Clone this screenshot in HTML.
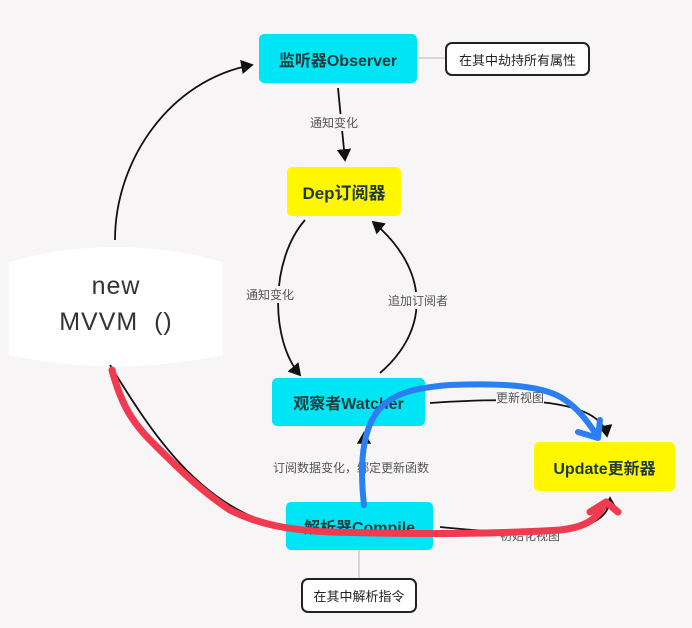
<!DOCTYPE html>
<html><head><meta charset="utf-8"><style>
body{margin:0;width:692px;height:628px;background:#f7f5f6;overflow:hidden;font-family:"Liberation Sans","Noto Sans CJK SC",sans-serif;}
.b{position:absolute;display:flex;align-items:center;justify-content:center;font-weight:bold;font-size:16px;color:#1f3a3a;border-radius:5px;}
.c{background:#00e5f5;}
.y{background:#fff700;}
.n{position:absolute;border:2px solid #222;border-radius:7px;background:#fff;font-size:13px;display:flex;align-items:center;justify-content:center;color:#222;}
.l{position:absolute;font-size:12px;color:#555;background:#f7f5f6;}
</style></head><body>
<svg width="692" height="628" style="position:absolute;left:0;top:0">
<defs><marker id="a" markerWidth="8" markerHeight="8" refX="6" refY="4" orient="auto"><path d="M0,0 L7,4 L0,8 z" fill="#111"/></marker></defs>
<path d="M9,262 Q115,232 223,262 L223,355 Q115,378 9,355 Z" fill="#fff"/>
<g fill="none" stroke="#111" stroke-width="1.8">
<path d="M115,240 C115,160 170,80 252,65" marker-end="url(#a)"/>
<path d="M338,88 L345,160" marker-end="url(#a)"/>
<path d="M305,220 C270,260 270,340 300,375" marker-end="url(#a)"/>
<path d="M380,373 C430,330 430,270 373,222" marker-end="url(#a)"/>
<path d="M364,500 L364,433" marker-end="url(#a)"/>
<path d="M430,403 C500,398 600,395 607,436" marker-end="url(#a)"/>
<path d="M440,527 C520,535 610,540 610,498" marker-end="url(#a)"/>
<path d="M110,365 C150,430 200,510 285,527"/>
</g>
<line x1="417" y1="58" x2="445" y2="58" stroke="#ccc" stroke-width="1.5"/>
<line x1="359" y1="550" x2="359" y2="578" stroke="#ccc" stroke-width="1.5"/>
</svg>
<div class="b c" style="left:259px;top:34px;width:158px;height:49px">监听器Observer</div>
<div class="n" style="left:445px;top:42px;width:141px;height:30px">在其中劫持所有属性</div>
<div class="b y" style="left:287px;top:167px;width:114px;height:49px;font-size:17px">Dep订阅器</div>
<div style="position:absolute;left:9px;top:268px;width:214px;text-align:center;font-size:25px;color:#333;line-height:36px;letter-spacing:1px">new<br>MVVM&nbsp;&nbsp;()</div>
<div class="b c" style="left:272px;top:378px;width:153px;height:48px">观察者Watcher</div>
<div class="b y" style="left:534px;top:442px;width:141px;height:49px">Update更新器</div>
<div class="b c" style="left:286px;top:502px;width:147px;height:48px">解析器Compile</div>
<div class="n" style="left:301px;top:578px;width:112px;height:31px">在其中解析指令</div>
<div class="l" style="left:310px;top:114px">通知变化</div>
<div class="l" style="left:246px;top:286px">通知变化</div>
<div class="l" style="left:388px;top:292px">追加订阅者</div>
<div class="l" style="left:273px;top:459px">订阅数据变化，绑定更新函数</div>
<div class="l" style="left:496px;top:389px">更新视图</div>
<div class="l" style="left:500px;top:527px">初始化视图</div>
<svg width="692" height="628" style="position:absolute;left:0;top:0">
<g fill="none" stroke-linecap="round" stroke-linejoin="round">
<path d="M364,505 C360,470 362,440 372,420 C385,395 410,388 450,385 C500,383 545,385 565,400 C580,410 590,425 598,437 M578,432 L598,438 L600,420" stroke="#2b7ff0" stroke-width="6"/>
<path d="M112,370 C120,400 130,420 150,440 C180,470 200,490 230,510 C260,525 290,530 330,532 C400,534 480,535 560,530 C590,527 600,515 605,503 M590,512 L606,502 L618,512" stroke="#f03a50" stroke-width="7"/>
</g>
</svg>
</body></html>
